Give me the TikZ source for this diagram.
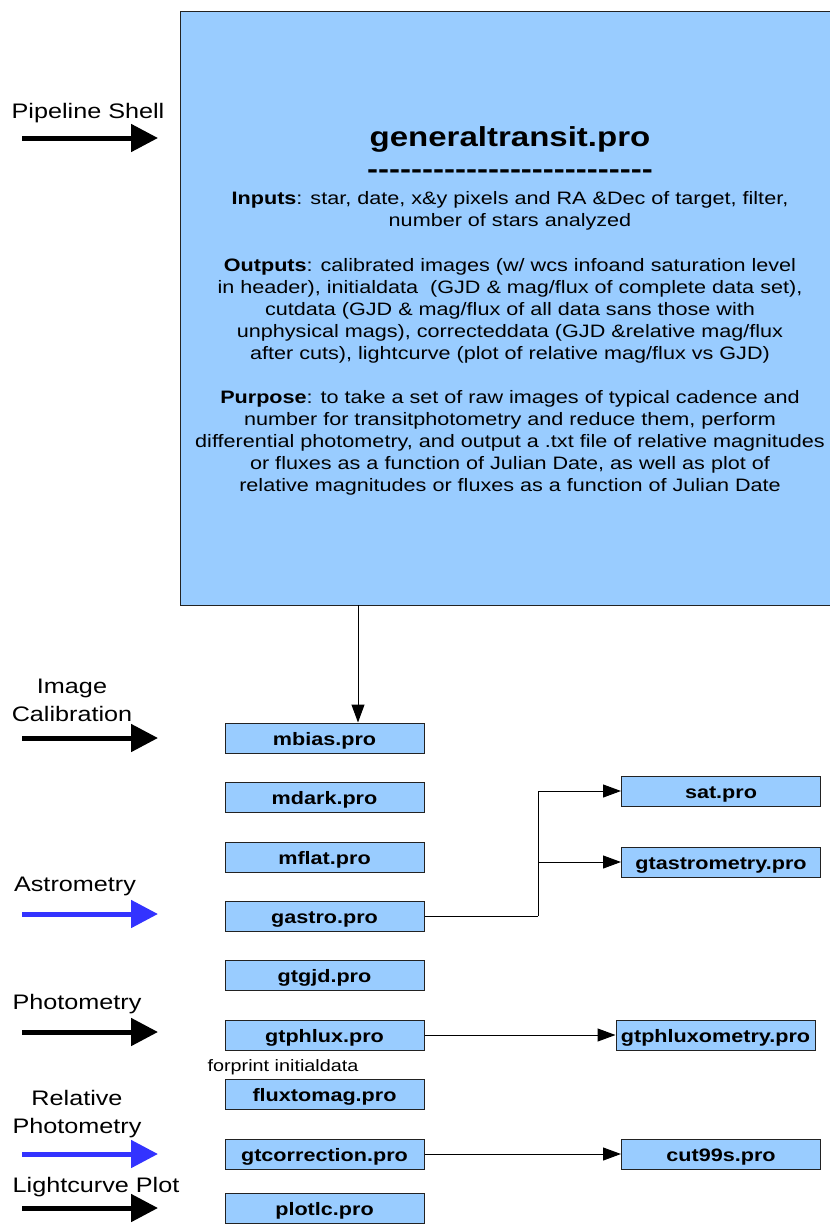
\documentclass[tikz,border=0pt]{standalone}
\usepackage{fontspec}
\newfontfamily\arial[FakeStretch=1.2]{Liberation Sans}
\usetikzlibrary{arrows.meta}
\definecolor{boxblue}{HTML}{99CCFF}
\definecolor{arrblue}{HTML}{3333FF}
\definecolor{edge}{HTML}{222222}
\begin{document}
\begin{tikzpicture}[x=1pt,y=-1pt,
  font=\arial,
  prog/.style={draw=edge, line width=1pt, fill=boxblue, minimum width=199pt, minimum height=30pt, inner sep=0pt, text height=16pt, text depth=2pt, font=\arial\bfseries\fontsize{18}{20}\selectfont},
  lbl/.style={font=\arial\fontsize{21}{28}\selectfont, align=center, inner sep=0pt},
  body/.style={font=\arial\fontsize{18}{22}\selectfont, align=center, inner sep=0pt},
  fat/.style={line width=5pt, -{Triangle[length=27pt,width=27pt]}},
  conn/.style={line width=1pt, -{Triangle[length=18pt,width=13pt]}}
]
\useasboundingbox (0,0) rectangle (830,1224);

% main box
\node[draw=edge, line width=1pt, fill=boxblue, minimum width=660pt, minimum height=594pt, inner sep=0pt] (gt) at (510,308) {};
\node[inner sep=0pt, font=\arial\bfseries\fontsize{27.5}{30}\selectfont] (title) at (510,139.5) {generaltransit.pro};
\node[inner sep=0pt, font=\arial\bfseries\fontsize{27.5}{30}\selectfont] (dashes) at (510,174.5) {-{}-{}-{}-{}-{}-{}-{}-{}-{}-{}-{}-{}-{}-{}-{}-{}-{}-{}-{}-{}-{}-{}-{}-{}-{}-};
\node[body] (inputs) at (510,211) {\textbf{Inputs}: star, date, x\&y pixels and RA \&Dec of target, filter,\\ number of stars analyzed};
\node[body] (outputs) at (510,310.5) {\textbf{Outputs}: calibrated images (w/ wcs infoand saturation level\\ in header), initialdata\ \ (GJD \& mag/flux of complete data set),\\ cutdata (GJD \& mag/flux of all data sans those with\\ unphysical mags), correcteddata (GJD \&relative mag/flux\\ after cuts), lightcurve (plot of relative mag/flux vs GJD)};
\node[body] (purpose) at (510,443) {\textbf{Purpose}: to take a set of raw images of typical cadence and\\ number for transitphotometry and reduce them, perform\\ differential photometry, and output a .txt file of relative magnitudes\\ or fluxes as a function of Julian Date, as well as plot of\\ relative magnitudes or fluxes as a function of Julian Date};

% left labels
\node[lbl] (lps) at (88,113) {Pipeline Shell};
\node[lbl] (lic) at (72,700) {Image\\Calibration};
\node[lbl] (las) at (75,886) {Astrometry};
\node[lbl] (lph) at (77,1004) {Photometry};
\node[lbl] (lrp) at (77,1114) {Relative\\Photometry};
\node[lbl] (llp) at (96,1187) {Lightcurve Plot};

\coordinate (a1s) at (22,138);  \coordinate (a1e) at (158,138);
\coordinate (a2s) at (22,738);  \coordinate (a2e) at (158,738);
\coordinate (a3s) at (22,914);  \coordinate (a3e) at (158,914);
\coordinate (a4s) at (22,1032); \coordinate (a4e) at (158,1032);
\coordinate (a5s) at (22,1154); \coordinate (a5e) at (158,1154);
\coordinate (a6s) at (22,1208); \coordinate (a6e) at (158,1208);
\draw[fat] (a1s) -- (a1e);
\draw[fat] (a2s) -- (a2e);
\draw[fat, arrblue] (a3s) -- (a3e);
\draw[fat] (a4s) -- (a4e);
\draw[fat, arrblue] (a5s) -- (a5e);
\draw[fat] (a6s) -- (a6e);

% program boxes
\node[prog] (mbias) at (324.5,738) {mbias.pro};
\node[prog] (mdark) at (324.5,797) {mdark.pro};
\node[prog] (mflat) at (324.5,857) {mflat.pro};
\node[prog] (gastro) at (324.5,916) {gastro.pro};
\node[prog] (gtgjd) at (324.5,975) {gtgjd.pro};
\node[prog] (gtphlux) at (324.5,1035) {gtphlux.pro};
\node[prog] (fluxtomag) at (324.5,1094) {fluxtomag.pro};
\node[prog] (gtcorr) at (324.5,1154) {gtcorrection.pro};
\node[prog] (plotlc) at (324.5,1208.5) {plotlc.pro};

\node[prog] (sat) at (721,791) {sat.pro};
\node[prog] (gtast) at (721,862) {gtastrometry.pro};
\node[prog] (gtphluxom) at (715.5,1035) {gtphluxometry.pro};
\node[prog] (cut) at (721,1154) {cut99s.pro};

\node[inner sep=0pt, font=\arial\fontsize{16.5}{20}\selectfont] (fp) at (283,1067) {forprint initialdata};

% connectors
\coordinate (gtout) at (358,605);
\draw[conn] (gtout) -- (gtout |- mbias.north);
\coordinate (br) at (538,916);
\draw[line width=1pt] (gastro.east) -- (br);
\draw[conn] (br) |- (sat.west);
\draw[conn] (br |- gtast.west) -- (gtast.west);
\draw[conn] (gtphlux.east) -- (gtphluxom.west);
\draw[conn] (gtcorr.east) -- (cut.west);
\end{tikzpicture}
\end{document}
